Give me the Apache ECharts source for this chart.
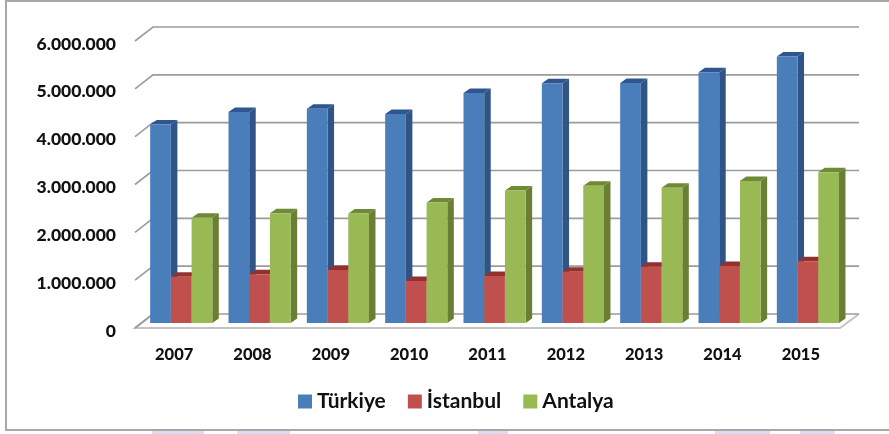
<!DOCTYPE html>
<html>
<head>
<meta charset="utf-8">
<style>html,body{margin:0;padding:0;background:#fff;}</style>
<script src="https://cdn.jsdelivr.net/npm/echarts@6/dist/echarts.min.js"></script>
</head>
<body>
<div id="chart" style="width:889px;height:434px;"></div>
<script>
const years = ['2007', '2008', '2009', '2010', '2011', '2012', '2013', '2014', '2015'];
const turkiye = [4150000, 4410000, 4480000, 4370000, 4810000, 5010000, 5020000, 5240000, 5570000];
const istanbul = [965000, 1020000, 1110000, 880000, 980000, 1070000, 1175000, 1190000, 1290000];
const antalya = [2200000, 2295000, 2290000, 2520000, 2770000, 2870000, 2830000, 2970000, 3150000];
const yTicks = [0, 1000000, 2000000, 3000000, 4000000, 5000000, 6000000];

// 3d look: depth of the wall behind the axis, and of the bars
const wallDx = 18, wallDy = -14;
const barDx = 6.5, barDy = -4.5, barFrontDx = 7, barFrontDy = -5;
const fontName = 'Lato';

function dots(v) {
    return '{n|' + String(v).replace(/\B(?=(\d{3})+$)/g, '.') + '}';
}

function wallItem(params, api) {
    const v = api.value(1);
    const c = params.coordSys;
    const y = api.coord([0, v])[1];
    const x0 = c.x, x1 = c.x + c.width;
    const children = [];
    if (v === 0) {
        // floor
        children.push({
            type: 'polyline',
            shape: {points: [[x0 + wallDx, y + wallDy], [x0, y], [x1, y], [x1 + wallDx + 1, y + wallDy]]},
            style: {fill: 'none', stroke: '#c4c4c4', lineWidth: 2}
        });
    }
    children.push({
        type: 'polyline',
        shape: {points: [[x0, y], [x0 + wallDx, y + wallDy], [x1 + wallDx + 1, y + wallDy]]},
        style: {fill: 'none', stroke: '#9c9c9c', lineWidth: 1.6}
    });
    return {type: 'group', children: children};
}

function barSeries(name, values, slot, front, side, top) {
    return {
        name: name,
        type: 'custom',
        z: 3 + slot,
        itemStyle: {color: front},
        data: values.map((v, i) => [i, v]),
        encode: {x: 0, y: 1},
        clip: false,
        renderItem(params, api) {
            const base = api.coord([api.value(0), 0]);
            const peak = api.coord([api.value(0), api.value(1)]);
            const w = api.size([1, 0])[0] * 0.2645;
            const x0 = base[0] - 24 + barFrontDx - 7 + slot * w;
            const x1 = x0 + w;
            const yb = base[1] + barFrontDy;
            const yt = peak[1] + barFrontDy;
            return {
                type: 'group',
                children: [
                    {type: 'polygon', shape: {points: [[x0, yt], [x0 + barDx, yt + barDy], [x1 + barDx, yt + barDy], [x1, yt]]}, style: {fill: top}},
                    {type: 'polygon', shape: {points: [[x1, yt], [x1 + barDx, yt + barDy], [x1 + barDx, yb + barDy], [x1, yb]]}, style: {fill: side}},
                    {type: 'rect', shape: {x: x0, y: yt, width: w, height: yb - yt}, style: {fill: front}}
                ]
            };
        }
    };
}

const chart = echarts.init(document.getElementById('chart'));
chart.setOption({
    animation: false,
    backgroundColor: '#fff',
    grid: {left: 135, right: 49, top: 41, bottom: 106},
    legend: {
        data: ['Türkiye', 'İstanbul', 'Antalya'],
        left: 298,
        top: 391,
        padding: 0,
        icon: 'rect',
        itemWidth: 14,
        itemHeight: 14,
        itemGap: 22,
        textStyle: {fontFamily: fontName, fontSize: 21, fontWeight: 'bold', color: '#111'}
    },
    xAxis: {
        type: 'category',
        data: years,
        axisLine: {show: false},
        axisTick: {show: false},
        axisLabel: {margin: 18, fontFamily: fontName, fontSize: 16.5, fontWeight: 900, color: '#111'}
    },
    yAxis: {
        type: 'value',
        min: 0,
        max: 6000000,
        interval: 1000000,
        splitLine: {show: false},
        axisLine: {show: false},
        axisTick: {show: false},
        axisLabel: {
            margin: 19,
            formatter: dots,
            rich: {n: {fontFamily: fontName, fontSize: 17.5, fontWeight: 900, color: '#111', padding: [6, 0, 0, 0]}}
        }
    },
    series: [
        {
            name: 'wall',
            type: 'custom',
            z: 1,
            silent: true,
            data: yTicks.map(v => [0, v]),
            encode: {x: 0, y: 1},
            clip: false,
            renderItem: wallItem
        },
        barSeries('Türkiye', turkiye, 0, '#4a7ebb', '#2f5485', '#2f5690'),
        barSeries('İstanbul', istanbul, 1, '#c0504d', '#8f3533', '#94312f'),
        barSeries('Antalya', antalya, 2, '#98b954', '#6a7f34', '#6f8a36')
    ],
    graphic: [
        {type: 'polyline', z: 0, shape: {points: [[895, 1], [6, 1], [6, 430], [895, 430]]}, style: {fill: 'none', stroke: '#a8a8a8', lineWidth: 2}},
        {type: 'rect', z: 0, shape: {x: 152, y: 431, width: 52, height: 3}, style: {fill: '#dcdcf0'}},
        {type: 'rect', z: 0, shape: {x: 237, y: 431, width: 53, height: 3}, style: {fill: '#dcdcf0'}},
        {type: 'rect', z: 0, shape: {x: 478, y: 431, width: 30, height: 3}, style: {fill: '#dcdcf0'}},
        {type: 'rect', z: 0, shape: {x: 715, y: 431, width: 55, height: 3}, style: {fill: '#dcdcf0'}},
        {type: 'rect', z: 0, shape: {x: 800, y: 431, width: 35, height: 3}, style: {fill: '#dcdcf0'}}
    ]
});

window.addEventListener('resize', function () {
    chart.resize();
});
</script>
</body>
</html>
